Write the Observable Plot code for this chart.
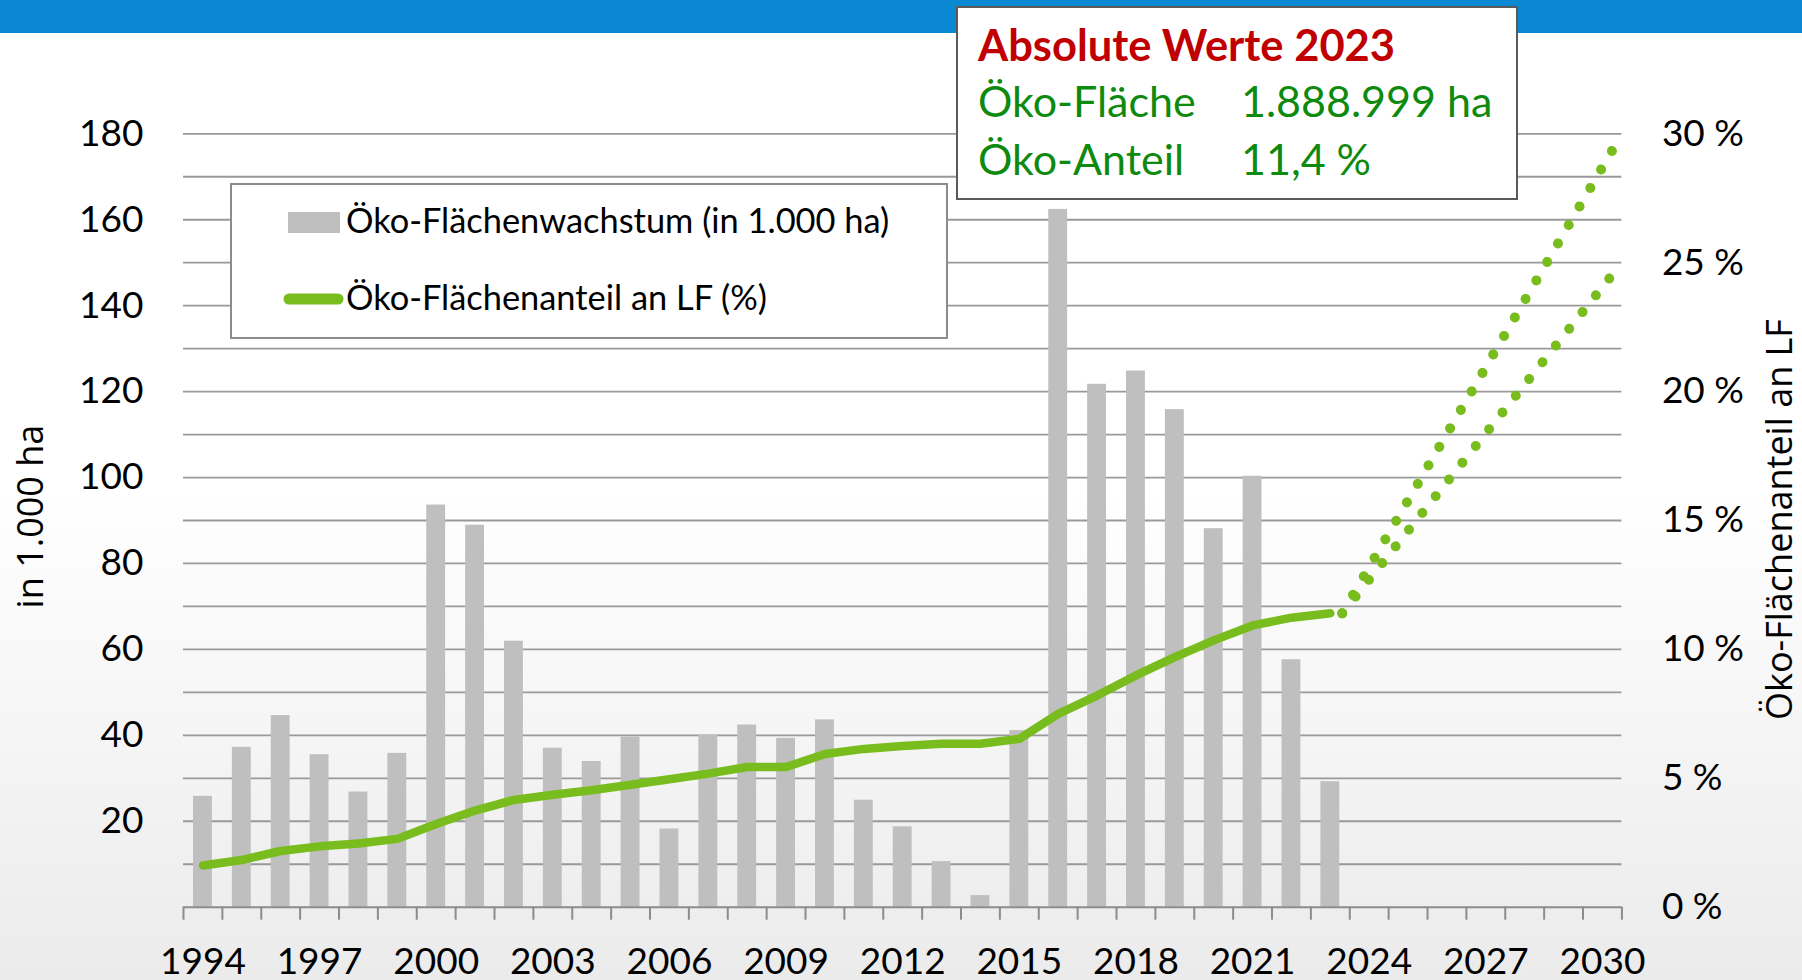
<!DOCTYPE html>
<html>
<head>
<meta charset="utf-8">
<script src="https://cdn.jsdelivr.net/npm/d3@7"></script>
<script src="https://cdn.jsdelivr.net/npm/@observablehq/plot@0.6"></script>
<style>
  html, body { margin: 0; padding: 0; }
  body {
    width: 1802px; height: 980px; position: relative; overflow: hidden;
    background: linear-gradient(to bottom, #ffffff 0%, #ffffff 50%, #ebebeb 100%);
  }
  #topbar { position: absolute; left: 0; top: 0; width: 1802px; height: 33px; background: #0a89d2; }
  #chart { position: absolute; left: 0; top: 0; }
  .overlay { position: absolute; }
</style>
</head>
<body>
<div id="topbar"></div>
<div id="chart"></div>
<svg class="overlay" id="legend" style="left:230px;top:183px" width="718" height="156"></svg>
<svg class="overlay" id="note" style="left:956px;top:6px" width="562" height="194"></svg>
<script>
// ---- data ----
const years = [1994, 1995, 1996, 1997, 1998, 1999, 2000, 2001, 2002, 2003, 2004, 2005, 2006, 2007, 2008,
               2009, 2010, 2011, 2012, 2013, 2014, 2015, 2016, 2017, 2018, 2019, 2020, 2021, 2022, 2023];
// Öko-Flächenwachstum (in 1.000 ha)
const growth = [25.8, 37.2, 44.6, 35.5, 26.8, 35.8, 93.6, 88.9, 61.9, 37.0, 33.9, 39.6, 18.2, 40.0, 42.4,
                39.3, 43.6, 24.9, 18.7, 10.6, 2.7, 41.1, 162.4, 121.7, 124.8, 115.8, 88.1, 100.3, 57.6, 29.2];
// Öko-Flächenanteil an LF (%)
const share = [1.62, 1.83, 2.18, 2.36, 2.47, 2.65, 3.23, 3.75, 4.16, 4.36, 4.54, 4.75, 4.96, 5.18, 5.44,
               5.44, 5.94, 6.14, 6.25, 6.34, 6.34, 6.53, 7.5, 8.21, 8.99, 9.7, 10.35, 10.93, 11.23, 11.4];
// projections 2023 -> 2030 (%)
const projYears = [2023, 2030];
const projHigh = [11.4, 30];
const projLow = [11.4, 25];

const allYears = [1994, 1995, 1996, 1997, 1998, 1999, 2000, 2001, 2002, 2003, 2004, 2005, 2006, 2007, 2008, 2009,
                  2010, 2011, 2012, 2013, 2014, 2015, 2016, 2017, 2018, 2019, 2020, 2021, 2022, 2023, 2024, 2025,
                  2026, 2027, 2028, 2029, 2030];
const labelYears = [1994, 1997, 2000, 2003, 2006, 2009, 2012, 2015, 2018, 2021, 2024, 2027, 2030];
const leftTicks = [20, 40, 60, 80, 100, 120, 140, 160, 180];
const rightTicks = [0, 5, 10, 15, 20, 25, 30];   // %
const gridTicks = [10, 20, 30, 40, 50, 60, 70, 80, 90, 100, 110, 120, 130, 140, 150, 160, 170, 180];

const ratio = 6; // 30 % on right axis == 180 on left axis

const barData = years.map((year, i) => ({year, value: growth[i]}));
const lineData = years.map((year, i) => ({year, share: share[i]}));
const highData = projYears.map((year, i) => ({year, share: projHigh[i]}));
const lowData = projYears.map((year, i) => ({year, share: projLow[i]}));

const first = allYears[0];
const nCat = allYears.length;
// category slots [year, year+1); the projection series sits on tick marks (Excel secondary-axis style)
const onTick = y => first + (y - first) * nCat / (nCat - 1);

const BAR = "#bfbfbf", GREEN = "#78bc1e", GRID = "#999999";

const chart = Plot.plot({
  width: 1802,
  height: 980,
  marginLeft: 183,
  marginRight: 180.6,
  marginTop: 133.3,
  marginBottom: 73.3,
  x: {type: "linear", domain: [first, first + nCat]},
  y: {domain: [0, 180]},
  style: {background: "transparent", fontFamily: "Lato, sans-serif", fontSize: "37px", color: "#000", overflow: "visible"},
  marks: [
    Plot.gridY(gridTicks, {stroke: GRID, strokeOpacity: 1, strokeWidth: 1.8}),
    Plot.rectY(barData, {x1: d => d.year, x2: d => d.year + 1, y: "value", fill: BAR, insetLeft: 10, insetRight: 10}),
    Plot.ruleY([0], {stroke: "#8c8c8c", strokeWidth: 2}),
    Plot.axisX({ticks: [...allYears, first + nCat], tickFormat: () => "", tickSize: 13, stroke: "#8c8c8c", strokeWidth: 2, label: null}),
    Plot.axisX({ticks: labelYears.map(y => y + 0.5), tickFormat: d => String(Math.round(d - 0.5)), tickSize: 0, tickPadding: 41, label: null}),
    Plot.axisY({ticks: leftTicks, tickSize: 0, tickPadding: 40, label: null}),
    Plot.axisY({anchor: "right", ticks: rightTicks.map(v => v * ratio), tickFormat: d => `${d / ratio} %`, tickSize: 0, tickPadding: 40, label: null}),
    Plot.line(lineData, {x: d => d.year + 0.5, y: d => d.share * ratio, stroke: GREEN, strokeWidth: 8.5, strokeLinejoin: "round", strokeLinecap: "round"}),
    Plot.line(highData, {x: d => onTick(d.year), y: d => d.share * ratio, stroke: GREEN, strokeWidth: 10, strokeLinecap: "round", strokeDasharray: "0.01 21.4"}),
    Plot.line(lowData, {x: d => onTick(d.year), y: d => d.share * ratio, stroke: GREEN, strokeWidth: 10, strokeLinecap: "round", strokeDasharray: "0.01 21.4"}),
    Plot.text(["in 1.000 ha"], {frameAnchor: "left", textAnchor: "middle", rotate: -90, dx: -152, dy: -4, fontFamily: "Open Sans", fontSize: 36, fill: "#000"}),
    Plot.text(["Öko-Flächenanteil an LF"], {frameAnchor: "right", textAnchor: "middle", rotate: -90, dx: 159, dy: -1, fontFamily: "Open Sans", fontSize: 36, fill: "#000"})
  ]
});
document.getElementById("chart").append(chart);

// ---- legend ----
const legend = d3.select("#legend");
legend.append("rect").attr("x", 1).attr("y", 1).attr("width", 716).attr("height", 154)
  .attr("fill", "#fff").attr("stroke", "#8c8c8c").attr("stroke-width", 2);
legend.append("rect").attr("x", 58).attr("y", 29).attr("width", 52).attr("height", 21).attr("fill", BAR);
legend.append("text").attr("x", 116).attr("y", 50).attr("font-family", "Lato, sans-serif").attr("font-size", 34.4)
  .text("Öko-Flächenwachstum (in 1.000 ha)");
legend.append("line").attr("x1", 59).attr("x2", 108).attr("y1", 116).attr("y2", 116)
  .attr("stroke", GREEN).attr("stroke-width", 11).attr("stroke-linecap", "round");
legend.append("text").attr("x", 116).attr("y", 127).attr("font-family", "Lato, sans-serif").attr("font-size", 34.4)
  .text("Öko-Flächenanteil an LF (%)");

// ---- note box ----
const note = d3.select("#note");
note.append("rect").attr("x", 1).attr("y", 1).attr("width", 560).attr("height", 192)
  .attr("fill", "#fff").attr("stroke", "#5a5a5a").attr("stroke-width", 2);
note.append("text").attr("x", 22).attr("y", 55).attr("font-family", "Lato, sans-serif").attr("font-weight", "bold")
  .attr("font-size", 43.5).attr("fill", "#c00000").text("Absolute Werte 2023");
const GTXT = "#0e8a0e";
note.append("text").attr("x", 22).attr("y", 111).attr("font-family", "Lato, sans-serif").attr("font-size", 43)
  .attr("fill", GTXT).text("Öko-Fläche");
note.append("text").attr("x", 285).attr("y", 111).attr("font-family", "Lato, sans-serif").attr("font-size", 43)
  .attr("fill", GTXT).text("1.888.999 ha");
note.append("text").attr("x", 22).attr("y", 169).attr("font-family", "Lato, sans-serif").attr("font-size", 43)
  .attr("fill", GTXT).text("Öko-Anteil");
note.append("text").attr("x", 285).attr("y", 169).attr("font-family", "Lato, sans-serif").attr("font-size", 43)
  .attr("fill", GTXT).text("11,4 %");
</script>
</body>
</html>
